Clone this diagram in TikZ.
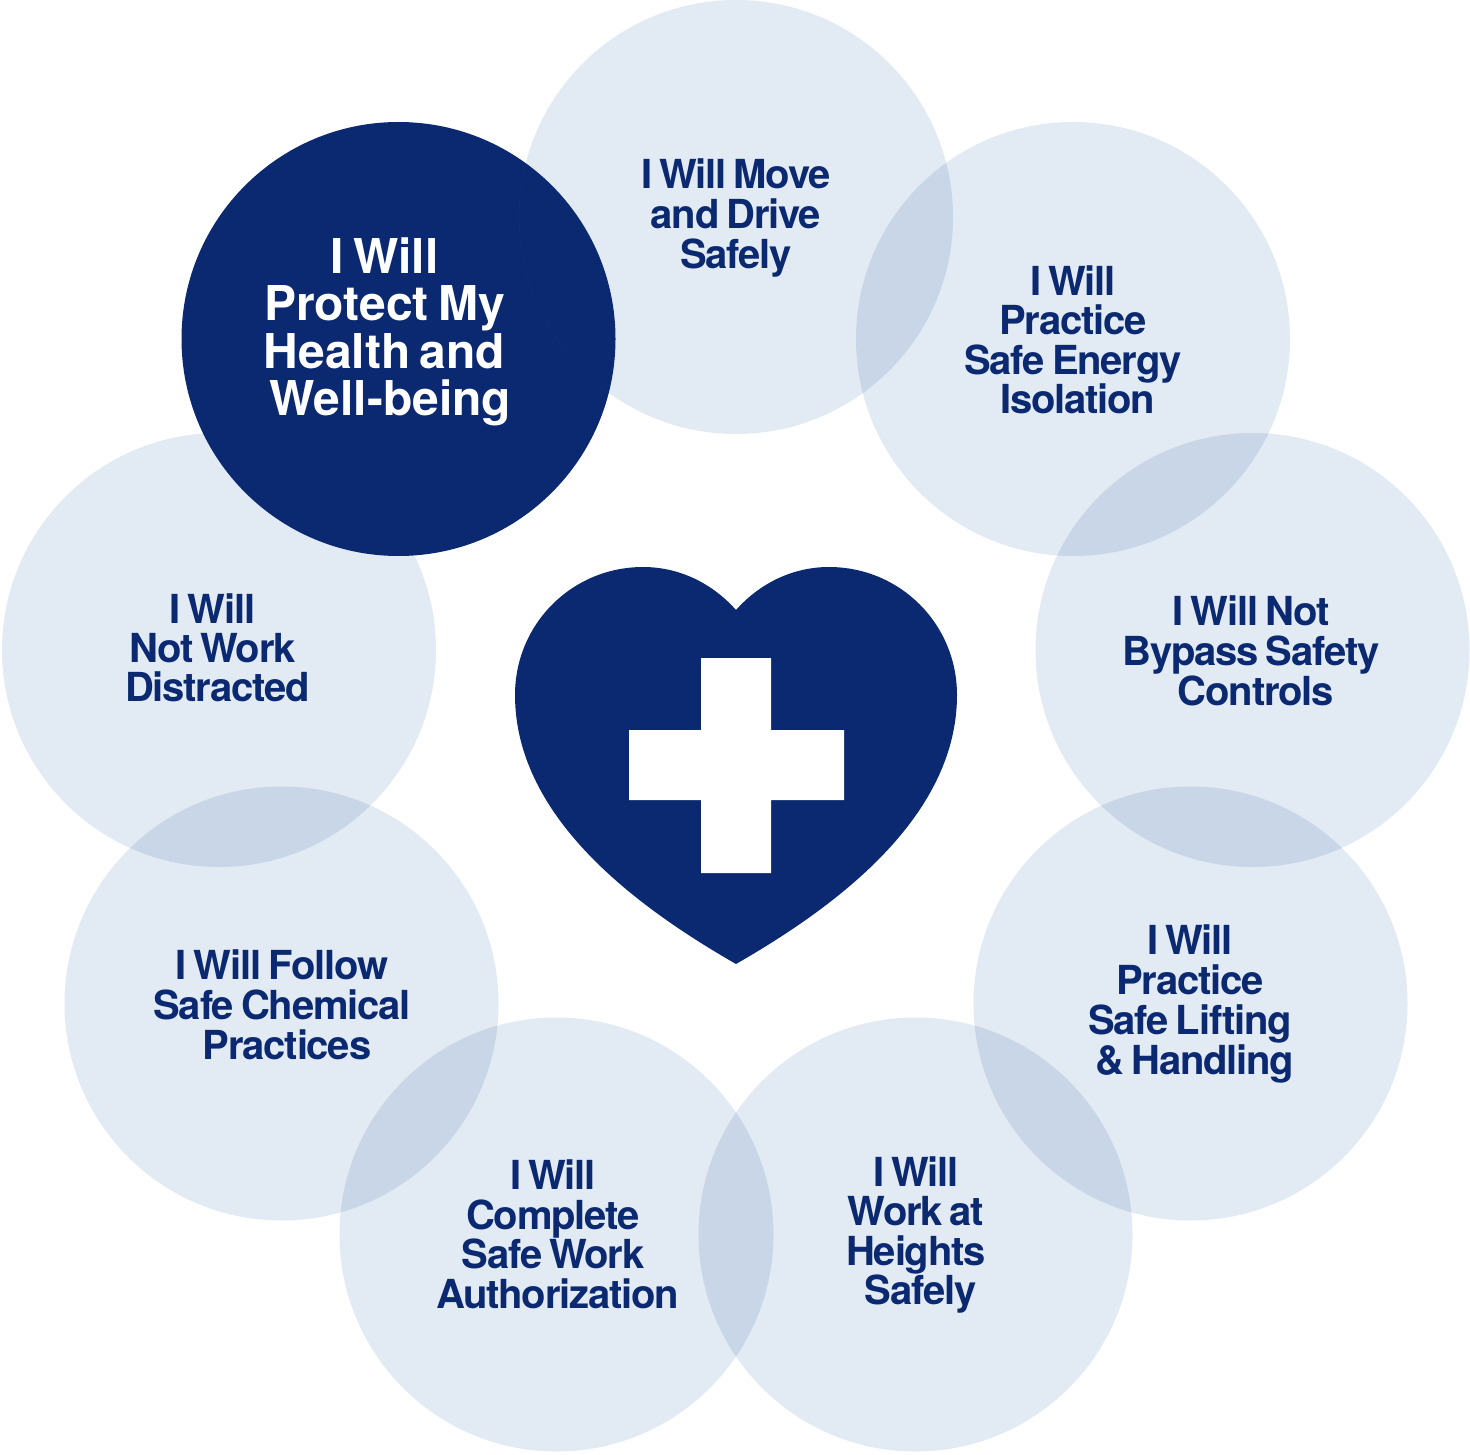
\documentclass[tikz,border=0pt]{standalone}
\usepackage{fontspec}
\newfontfamily\smallfont[LetterSpace=-3.0,WordSpace=0.7]{TeX Gyre Heros}
\newfontfamily\largefont[LetterSpace=0,WordSpace=0.7]{TeX Gyre Heros}
\definecolor{navy}{HTML}{0B2970}
\definecolor{pale}{HTML}{E2EAF3}
\newcommand{\txl}[2][0]{\strut\kern#1pt #2\strut}
\tikzset{
  disc/.style={circle,fill=pale,draw=none,minimum size=217pt,inner sep=0pt,blend mode=multiply},
  darkdisc/.style={circle,fill=navy,draw=none,minimum size=217pt,inner sep=0pt},
  lab/.style={align=center,inner sep=0pt,text=navy,font=\fontsize{20}{18}\smallfont\bfseries},
  biglab/.style={align=center,inner sep=0pt,text=white,font=\fontsize{24}{21.75}\largefont\bfseries}
}
\begin{document}
\begin{tikzpicture}[x=0.5pt,y=-0.5pt]
\useasboundingbox (0,0) rectangle (1470,1454);
\node[disc] (move) at (736,217) {};
\node[disc] (energy) at (1073,339) {};
\node[disc] (bypass) at (1252.5,650) {};
\node[disc] (lifting) at (1190.5,1003.5) {};
\node[disc] (heights) at (915.5,1234.5) {};
\node[disc] (auth) at (556.5,1234.5) {};
\node[disc] (chem) at (281.5,1003.5) {};
\node[disc] (distract) at (219,650) {};
\node[darkdisc] (health) at (398.5,339) {};
\begin{scope}
  \clip (398.5,339) circle[radius=217];
  \draw[line width=0.12pt,color=navy!96!white] (736,217) circle[radius=217];
\end{scope}
\node[lab] (tmove) at (736,219) {\txl{I Will Move}\\[-1.45pt]\txl{and Drive}\\[-1.45pt]\txl{Safely}};
\node[lab] (tenergy) at (1073,345) {\txl{I Will}\\[-1.45pt]\txl{Practice}\\[-1.45pt]\txl{Safe Energy}\\[-1.45pt]\txl[4.5]{Isolation}};
\node[lab] (tbypass) at (1251,656) {\txl{I Will Not}\\[-1.45pt]\txl{Bypass Safety}\\[-1.45pt]\txl[5]{Controls}};
\node[lab] (tlifting) at (1190,1005) {\txl{I Will}\\[-1.45pt]\txl{Practice}\\[-1.45pt]\txl{Safe Lifting}\\[-1.45pt]\txl[5]{\& Handling}};
\node[lab] (theights) at (916,1236) {\txl{I Will}\\[-1.45pt]\txl{Work at}\\[-1.45pt]\txl{Heights}\\[-1.45pt]\txl[4.5]{Safely}};
\node[lab] (tauth) at (553,1239.5) {\txl{I Will}\\[-1.45pt]\txl{Complete}\\[-1.45pt]\txl{Safe Work}\\[-1.45pt]\txl[4.5]{Authorization}};
\node[lab] (tchem) at (282,1010) {\txl{I Will Follow}\\[-1.45pt]\txl{Safe Chemical}\\[-1.45pt]\txl[5]{Practices}};
\node[lab] (tdistract) at (212.5,653) {\txl{I Will}\\[-1.45pt]\txl{Not Work}\\[-1.45pt]\txl[5]{Distracted}};
\node[biglab] (thealth) at (384.5,333.5) {\txl{I Will}\\[-1.45pt]\txl{Protect My}\\[-1.45pt]\txl{Health and}\\[-1.45pt]\txl[6]{Well-being}};
\fill[navy] (736,610) .. controls (760,583) and (793,567) .. (829,567)
  .. controls (900,567) and (957,624) .. (957,695)
  .. controls (957,820) and (830,910) .. (736,964)
  .. controls (642,910) and (515,820) .. (515,695)
  .. controls (515,624) and (572,567) .. (643,567)
  .. controls (679,567) and (712,583) .. (736,610) -- cycle;
\fill[white] (701,658) -- (771,658) -- (771,730) -- (844,730) -- (844,800) -- (771,800)
  -- (771,873) -- (701,873) -- (701,800) -- (629,800) -- (629,730) -- (701,730) -- cycle;
\end{tikzpicture}
\end{document}
